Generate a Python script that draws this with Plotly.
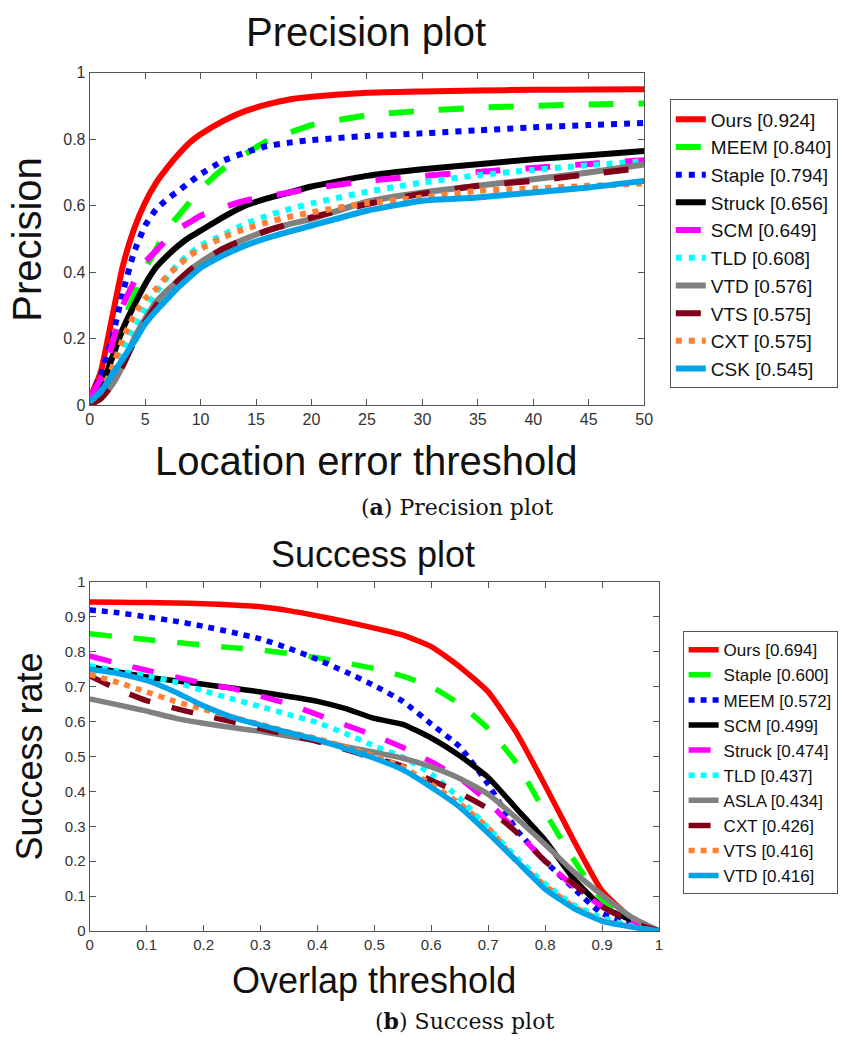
import plotly.graph_objects as go

W, H = 862, 1051

# ---------------- data: precision plot ----------------
prec_x = [0, 1, 2, 3, 4, 5, 6, 7, 8, 9, 10, 12, 14, 16, 18, 20, 25, 30, 35, 40, 45, 50]
prec_names = ["Ours [0.924]", "MEEM [0.840]", "Staple [0.794]", "Struck [0.656]", "SCM [0.649]",
              "TLD [0.608]", "VTD [0.576]", "VTS [0.575]", "CXT [0.575]", "CSK [0.545]"]
prec_ours   = [0.02, 0.10, 0.26, 0.42, 0.53, 0.61, 0.67, 0.715, 0.755, 0.79, 0.815, 0.855, 0.885, 0.905, 0.92, 0.928, 0.94, 0.944, 0.947, 0.949, 0.95, 0.951]
prec_meem   = [0.01, 0.06, 0.14, 0.25, 0.33, 0.41, 0.47, 0.53, 0.57, 0.61, 0.65, 0.71, 0.755, 0.795, 0.82, 0.843, 0.872, 0.886, 0.895, 0.901, 0.905, 0.908]
prec_staple = [0.02, 0.09, 0.20, 0.34, 0.46, 0.54, 0.59, 0.62, 0.645, 0.67, 0.695, 0.735, 0.76, 0.78, 0.79, 0.798, 0.81, 0.818, 0.827, 0.836, 0.843, 0.849]
prec_struck = [0.01, 0.05, 0.14, 0.23, 0.30, 0.364, 0.415, 0.45, 0.48, 0.505, 0.525, 0.565, 0.60, 0.622, 0.64, 0.658, 0.69, 0.71, 0.725, 0.74, 0.752, 0.765]
prec_scm    = [0.02, 0.08, 0.18, 0.30, 0.37, 0.43, 0.465, 0.50, 0.53, 0.55, 0.57, 0.595, 0.615, 0.628, 0.64, 0.652, 0.675, 0.69, 0.702, 0.714, 0.726, 0.737]
prec_tld    = [0.01, 0.04, 0.10, 0.17, 0.23, 0.29, 0.34, 0.385, 0.425, 0.455, 0.48, 0.512, 0.545, 0.57, 0.59, 0.607, 0.642, 0.67, 0.692, 0.708, 0.722, 0.734]
prec_vtd    = [0.00, 0.02, 0.06, 0.12, 0.20, 0.26, 0.31, 0.345, 0.375, 0.405, 0.43, 0.47, 0.50, 0.525, 0.545, 0.56, 0.612, 0.64, 0.66, 0.68, 0.70, 0.724]
prec_vts    = [0.00, 0.02, 0.06, 0.12, 0.19, 0.25, 0.30, 0.34, 0.375, 0.405, 0.43, 0.47, 0.50, 0.525, 0.545, 0.565, 0.605, 0.636, 0.66, 0.675, 0.695, 0.715]
prec_cxt    = [0.01, 0.04, 0.11, 0.20, 0.27, 0.32, 0.35, 0.39, 0.42, 0.45, 0.47, 0.505, 0.53, 0.55, 0.567, 0.58, 0.608, 0.625, 0.645, 0.652, 0.66, 0.667]
prec_csk    = [0.01, 0.04, 0.09, 0.14, 0.19, 0.245, 0.285, 0.32, 0.355, 0.385, 0.413, 0.45, 0.48, 0.503, 0.522, 0.54, 0.585, 0.615, 0.625, 0.64, 0.655, 0.675]
prec_series = [prec_ours, prec_meem, prec_staple, prec_struck, prec_scm,
               prec_tld, prec_vtd, prec_vts, prec_cxt, prec_csk]
prec_xticks = [0, 5, 10, 15, 20, 25, 30, 35, 40, 45, 50]
prec_yticks = [0, 0.2, 0.4, 0.6, 0.8, 1]

# ---------------- data: success plot ----------------
succ_x = [0, 0.05, 0.1, 0.15, 0.2, 0.25, 0.3, 0.35, 0.4, 0.45, 0.5, 0.55, 0.6, 0.65, 0.7, 0.75, 0.8, 0.85, 0.9, 0.95, 1.0]
succ_names = ["Ours [0.694]", "Staple [0.600]", "MEEM [0.572]", "SCM [0.499]", "Struck [0.474]",
              "TLD [0.437]", "ASLA [0.434]", "CXT [0.426]", "VTS [0.416]", "VTD [0.416]"]
succ_ours   = [0.943, 0.942, 0.941, 0.940, 0.938, 0.934, 0.929, 0.918, 0.903, 0.886, 0.868, 0.848, 0.815, 0.757, 0.685, 0.567, 0.417, 0.26, 0.115, 0.04, 0.0]
succ_staple = [0.852, 0.843, 0.835, 0.827, 0.819, 0.812, 0.805, 0.795, 0.783, 0.768, 0.752, 0.73, 0.70, 0.65, 0.58, 0.48, 0.34, 0.205, 0.09, 0.035, 0.0]
succ_meem   = [0.92, 0.912, 0.90, 0.888, 0.873, 0.856, 0.837, 0.81, 0.778, 0.742, 0.703, 0.658, 0.593, 0.528, 0.42, 0.29, 0.20, 0.122, 0.05, 0.022, 0.0]
succ_scm    = [0.757, 0.742, 0.728, 0.717, 0.707, 0.696, 0.685, 0.672, 0.658, 0.637, 0.609, 0.592, 0.553, 0.502, 0.44, 0.35, 0.26, 0.15, 0.07, 0.032, 0.0]
succ_struck = [0.788, 0.767, 0.747, 0.728, 0.71, 0.695, 0.673, 0.65, 0.62, 0.59, 0.56, 0.526, 0.485, 0.437, 0.37, 0.285, 0.20, 0.128, 0.07, 0.03, 0.0]
succ_tld    = [0.76, 0.745, 0.732, 0.713, 0.688, 0.665, 0.643, 0.62, 0.597, 0.565, 0.53, 0.498, 0.45, 0.38, 0.295, 0.21, 0.135, 0.075, 0.038, 0.015, 0.0]
succ_asla   = [0.665, 0.648, 0.63, 0.61, 0.595, 0.583, 0.572, 0.558, 0.545, 0.528, 0.512, 0.495, 0.47, 0.437, 0.392, 0.323, 0.248, 0.17, 0.103, 0.041, 0.0]
succ_cxt    = [0.731, 0.692, 0.66, 0.638, 0.618, 0.60, 0.58, 0.562, 0.543, 0.52, 0.495, 0.472, 0.432, 0.395, 0.35, 0.282, 0.20, 0.135, 0.07, 0.027, 0.0]
succ_vts    = [0.735, 0.712, 0.685, 0.658, 0.635, 0.613, 0.592, 0.57, 0.551, 0.527, 0.501, 0.47, 0.42, 0.365, 0.295, 0.20, 0.13, 0.07, 0.03, 0.012, 0.0]
succ_vtd    = [0.75, 0.738, 0.718, 0.685, 0.645, 0.613, 0.59, 0.568, 0.548, 0.522, 0.495, 0.462, 0.412, 0.355, 0.28, 0.20, 0.12, 0.065, 0.028, 0.012, 0.0]
succ_series = [succ_ours, succ_staple, succ_meem, succ_scm, succ_struck,
               succ_tld, succ_asla, succ_cxt, succ_vts, succ_vtd]
succ_xticks = [0, 0.1, 0.2, 0.3, 0.4, 0.5, 0.6, 0.7, 0.8, 0.9, 1]
succ_yticks = [0, 0.1, 0.2, 0.3, 0.4, 0.5, 0.6, 0.7, 0.8, 0.9, 1]

# ---------------- styles ----------------
RED, GREEN, BLUE, BLACK, MAG = "#FF0000", "#00FF00", "#0000FF", "#000000", "#FF00FF"
CYAN, GRAY, DRED, ORANGE, LBLUE = "#00FFFF", "#808080", "#80001A", "#FF8033", "#00A2E8"
prec_colors = [RED, GREEN, BLUE, BLACK, MAG, CYAN, GRAY, DRED, ORANGE, LBLUE]
prec_kinds = ["solid", "dash", "dot", "solid", "dash", "dot", "solid", "dash", "dot", "solid"]
succ_colors = [RED, GREEN, BLUE, BLACK, MAG, CYAN, GRAY, DRED, ORANGE, LBLUE]
succ_kinds = ["solid", "dash", "dot", "solid", "dash", "dot", "solid", "dash", "dot", "solid"]

def dash_of(kind, top):
    if kind == "solid":
        return "solid"
    if kind == "dash":
        return "25px,25px" if top else "22px,22px"
    return "6px,7px" if top else "6px,6px"

FONT = "Liberation Sans, Arial, Helvetica, sans-serif"
SERIF = "DejaVu Serif, Liberation Serif, serif"

fig = go.Figure()
for name, ys, col, kind in zip(prec_names, prec_series, prec_colors, prec_kinds):
    fig.add_trace(go.Scatter(x=prec_x, y=ys, name=name, mode="lines",
                             line=dict(color=col, width=6, dash=dash_of(kind, True),
                                       shape="spline", smoothing=0.5),
                             xaxis="x", yaxis="y", legend="legend"))
for name, ys, col, kind in zip(succ_names, succ_series, succ_colors, succ_kinds):
    fig.add_trace(go.Scatter(x=succ_x, y=ys, name=name, mode="lines",
                             line=dict(color=col, width=5.5, dash=dash_of(kind, False),
                                       shape="spline", smoothing=0.5),
                             xaxis="x2", yaxis="y2", legend="legend2"))

def px_x(p):
    return p / W

def px_y(p):
    return 1 - p / H

axis_common = dict(showline=True, mirror="ticks", ticks="inside", ticklen=6,
                   linecolor="#555555", tickcolor="#555555", linewidth=1,
                   showgrid=False, zeroline=False, color="#333333")

fig.update_layout(
    width=W, height=H, margin=dict(l=0, r=0, t=0, b=0),
    paper_bgcolor="white", plot_bgcolor="white",
    font=dict(family=FONT, color="#222222"),
    xaxis=dict(domain=[px_x(87), px_x(650)], range=[0, 50], tickvals=prec_xticks,
               anchor="y", tickfont=dict(size=16), **axis_common),
    yaxis=dict(domain=[px_y(403), px_y(65)], range=[0, 1], tickvals=prec_yticks,
               ticktext=[("%g" % v) for v in prec_yticks],
               anchor="x", tickfont=dict(size=16), **axis_common),
    xaxis2=dict(domain=[px_x(87), px_x(665)], range=[0, 1], tickvals=succ_xticks,
                ticktext=[("%g" % v) for v in succ_xticks],
                anchor="y2", tickfont=dict(size=15), **axis_common),
    yaxis2=dict(domain=[px_y(938), px_y(583)], range=[0, 1], tickvals=succ_yticks,
                ticktext=[("%g" % v) for v in succ_yticks],
                anchor="x2", tickfont=dict(size=15), **axis_common),
    legend=dict(x=px_x(676), y=px_y(92), xanchor="left", yanchor="top",
                bordercolor="#555555", borderwidth=1, bgcolor="white",
                font=dict(size=19, family=FONT, color="#111111"),
                itemwidth=30, tracegroupgap=0),
    legend2=dict(x=px_x(689), y=px_y(633), xanchor="left", yanchor="top",
                 bordercolor="#555555", borderwidth=1, bgcolor="white",
                 font=dict(size=17, family=FONT, color="#111111"),
                 itemwidth=30, tracegroupgap=0),
    showlegend=True,
)

def ann(text, x, y, size, angle=0, family=FONT):
    fig.add_annotation(text=text, xref="paper", yref="paper", x=px_x(x), y=px_y(y),
                       xanchor="center", yanchor="middle", showarrow=False,
                       textangle=angle, font=dict(size=size, family=family, color="#111111"))

ann("Precision plot", 368, 23, 40)
ann("Location error threshold", 368, 460, 40)
ann("Precision", 23, 234, 40, angle=-90)
ann("(<b>a</b>) Precision plot", 460, 507, 22, family=SERIF)

ann("Success plot", 375, 555, 36)
ann("Overlap threshold", 376, 988, 36)
ann("Success rate", 26, 761, 36, angle=-90)
ann("(<b>b</b>) Success plot", 468, 1030, 22, family=SERIF)

fig.write_html("out.html")
